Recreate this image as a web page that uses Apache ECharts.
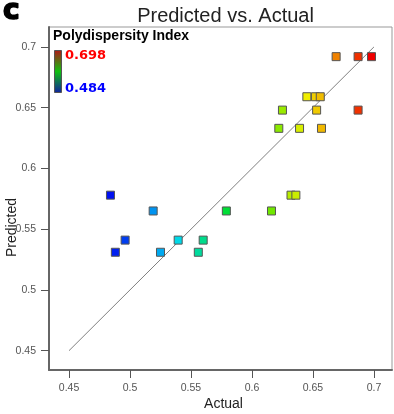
<!DOCTYPE html>
<html><head><meta charset="utf-8">
<script src="https://cdn.jsdelivr.net/npm/echarts@6/dist/echarts.min.js"></script>
<style>html,body{margin:0;padding:0;background:#fff}#c{width:394px;height:414px}</style>
</head><body><div id="c"></div>
<script>
const actual    = [0.669,0.687,0.698,0.645,0.652,0.656,0.625,0.653,0.687,0.622,0.639,0.657,0.632,0.636,0.484,0.519,0.579,0.616,0.496,0.5395,0.560,0.488,0.525,0.556];
const predicted = [0.692,0.692,0.692,0.659,0.659,0.659,0.648,0.648,0.648,0.633,0.633,0.633,0.578,0.578,0.578,0.565,0.565,0.565,0.541,0.541,0.541,0.531,0.531,0.531];
const tickValues = [0.45,0.5,0.55,0.6,0.65,0.7];
const tickLabels = ['0.45','0.5','0.55','0.6','0.65','0.7'];
const diagonal = [[0.45,0.45],[0.7,0.7]];
const colorMin = 0.484, colorMax = 0.698;
const legendTitle = 'Polydispersity Index';

const pts = actual.map((a,i)=>[a,predicted[i]]);
const chart = echarts.init(document.getElementById('c'));
const labelFmt = v => { const i = tickValues.findIndex(t=>Math.abs(t-v)<1e-9); return i>=0?tickLabels[i]:''; };
const axisCommon = {
  type:'value',
  axisLine:{show:true,lineStyle:{color:'#666',width:2}},
  axisTick:{show:true,length:8,lineStyle:{color:'#555',width:1},customValues:tickValues},
  axisLabel:{color:'#555',fontSize:10.5,fontFamily:'Liberation Sans, Arial',margin:13,customValues:tickValues,formatter:labelFmt},
  splitLine:{show:false}
};
chart.setOption({
  animation:false,
  backgroundColor:'#fff',
  title:{text:'Predicted vs. Actual',left:220.5,textAlign:'center',top:1,
    textStyle:{fontSize:20,fontWeight:'normal',color:'#222',fontFamily:'Liberation Sans, Arial'}},
  grid:{left:49,top:27,right:2,bottom:44,show:true,borderColor:'#999',borderWidth:1,backgroundColor:'transparent',outerBoundsMode:'none'},
  xAxis:Object.assign({},axisCommon,{min:0.4336,max:0.7148}),
  yAxis:Object.assign({},axisCommon,{min:0.4341,max:0.7164}),
  visualMap:{show:false,type:'continuous',min:colorMin,max:colorMax,dimension:0,seriesIndex:1,
    inRange:{color:['#0010f0','#00d8f0','#00e000','#f0f000','#f00000'],opacity:1}},
  series:[
    {type:'line',data:diagonal,symbol:'none',silent:true,lineStyle:{color:'#808080',width:1},z:1},
    {type:'scatter',data:pts,symbol:'rect',symbolSize:8,itemStyle:{borderColor:'#555',borderWidth:1,opacity:1},z:3}
  ],
  graphic:[
    {type:'text',x:3,y:-2,style:{text:'c',font:'bold 28px DejaVu Sans',fill:'#000',stroke:'#000',lineWidth:1.6}},
    {type:'text',x:223.5,y:404,style:{text:'Actual',font:'14px Liberation Sans, Arial',fill:'#222',textAlign:'center',textVerticalAlign:'middle'}},
    {type:'text',x:12,y:227.5,rotation:Math.PI/2,style:{text:'Predicted',font:'14px Liberation Sans, Arial',fill:'#222',textAlign:'center',textVerticalAlign:'middle'}},
    {type:'text',x:53,y:29,style:{text:legendTitle,font:'bold 14px Liberation Sans, Arial',fill:'#000'}},
    {type:'rect',shape:{x:54.5,y:50.5,width:7,height:42},style:{stroke:'#555',lineWidth:1,
      fill:new echarts.graphic.LinearGradient(0,0,0,1,[{offset:0,color:'#b01818'},{offset:0.5,color:'#10c010'},{offset:1,color:'#1020a0'}])}},
    {type:'text',x:65,y:49,style:{text:colorMax.toFixed(3),font:'bold 13px DejaVu Sans',fill:'#ff0000'}},
    {type:'text',x:65,y:82,style:{text:colorMin.toFixed(3),font:'bold 13px DejaVu Sans',fill:'#0000ff'}}
  ]
});
</script></body></html>
